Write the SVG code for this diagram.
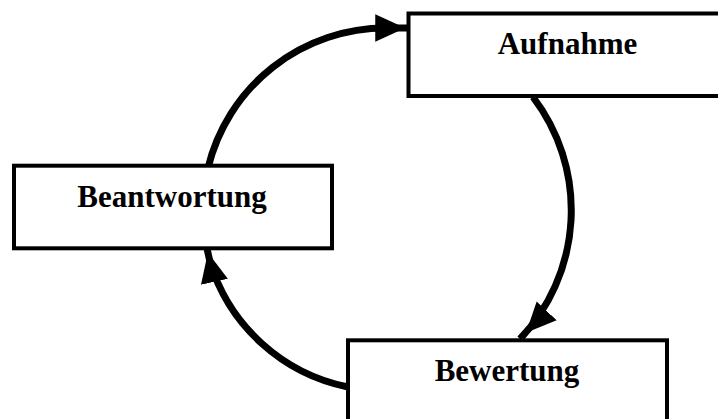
<svg xmlns="http://www.w3.org/2000/svg" width="718" height="419" viewBox="0 0 718 419">
<style>
.box{fill:#fff;stroke:#000;stroke-width:4}
.lbl{font-family:"Liberation Serif","Times New Roman",serif;font-weight:bold;font-size:31px;text-anchor:middle;fill:#000}
.con{fill:none;stroke:#000;stroke-width:7;marker-end:url(#ah)}
</style>
<defs>
<marker id="ah" markerUnits="userSpaceOnUse" markerWidth="40" markerHeight="30" viewBox="0 -12 32 24" refX="31" refY="0" orient="auto">
<path d="M0,-11 L24,0 L0,11 z" fill="#000"/>
</marker>
</defs>
<rect width="718" height="419" fill="#fff"/>
<g id="connectors">
<path class="con" d="M208,168 A183,183 0 0 1 386,28 L414,28"/>
<path class="con" d="M533,97 A187,187 0 0 1 520,339"/>
<path class="con" d="M348,387 A182,182 0 0 1 210,262 L206,244"/>
</g>
<g id="aufnahme">
<rect class="box" x="408.5" y="13.5" width="400" height="82.5"/>
<text class="lbl" x="567.5" y="54">Aufnahme</text>
</g>
<g id="beantwortung">
<rect class="box" x="14" y="165.7" width="318" height="82.6"/>
<text class="lbl" x="172" y="207">Beantwortung</text>
</g>
<g id="bewertung">
<rect class="box" x="348" y="340.3" width="319" height="100"/>
<text class="lbl" x="507" y="381">Bewertung</text>
</g>
</svg>
